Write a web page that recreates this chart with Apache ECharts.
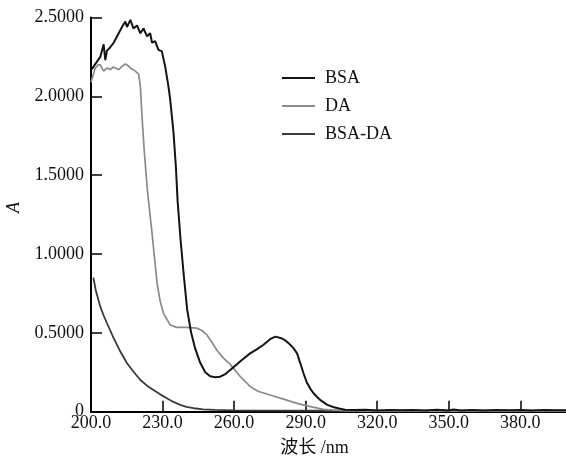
<!DOCTYPE html>
<html>
<head>
<meta charset="utf-8">
<script src="https://cdn.jsdelivr.net/npm/echarts@6/dist/echarts.min.js"></script>
<style>html,body{margin:0;padding:0;background:#fff}#c{width:566px;height:457px}</style>
</head>
<body>
<div id="c"></div>
<script>
var seriesNames = ['BSA', 'DA', 'BSA-DA'];
var xTicks = [200, 230, 260, 290, 320, 350, 380];
var yTicks = [0, 0.5, 1.0, 1.5, 2.0, 2.5];

var bsaX = [200.3,201.1,202.5,203.9,205.3,206.0,206.7,208.0,209.5,211.6,213.0,214.4,215.1,216.5,217.8,219.3,220.7,222.0,223.5,224.8,225.6,226.9,228.3,229.7,231.1,232.5,233.2,234.6,235.6,236.3,237.5,238.8,240.3,242.0,243.7,245.8,247.9,250.0,252.0,254.2,256.5,259.6,263.0,266.7,269.5,272.2,275.1,277.3,279.5,281.5,283.0,284.8,286.4,287.7,289.1,290.5,292.0,293.3,295.0,296.5,298.9,301.5,304.0,306.5,310,315,320,325,330,335,340,345,350,352,355,360,365,370,375,380,385,390,395,400];
var bsaY = [2.17,2.19,2.22,2.25,2.33,2.23,2.29,2.31,2.34,2.40,2.44,2.475,2.44,2.485,2.43,2.45,2.40,2.43,2.38,2.40,2.34,2.35,2.295,2.285,2.19,2.06,1.98,1.77,1.55,1.34,1.10,0.88,0.65,0.50,0.40,0.31,0.25,0.225,0.218,0.222,0.24,0.28,0.325,0.37,0.395,0.423,0.46,0.476,0.468,0.452,0.432,0.405,0.37,0.31,0.244,0.185,0.145,0.117,0.09,0.07,0.045,0.03,0.02,0.013,0.010,0.012,0.008,0.010,0.009,0.011,0.008,0.012,0.007,0.014,0.008,0.010,0.008,0.011,0.009,0.010,0.008,0.010,0.009,0.010];

var daX = [200.0,200.8,201.8,203.0,203.9,205.3,206.7,208.1,209.2,210.2,211.6,213.0,214.4,215.5,216.5,218.6,220.0,220.7,221.4,222.3,223.5,224.1,225.6,227.7,229.0,230.4,233.2,236.0,240.0,244.4,246.5,248.6,250.7,252.8,255.5,258.4,262.5,266.8,270.0,275.1,280.7,286.4,291.0,297.5,301.6,306,310,320,340,360,380,400];
var daY = [2.09,2.13,2.18,2.20,2.20,2.16,2.18,2.17,2.185,2.18,2.17,2.19,2.205,2.195,2.18,2.16,2.14,2.06,1.87,1.66,1.43,1.34,1.13,0.815,0.70,0.624,0.55,0.535,0.535,0.53,0.515,0.487,0.44,0.39,0.34,0.30,0.225,0.159,0.13,0.106,0.08,0.053,0.035,0.015,0.01,0.007,0.005,0.004,0.003,0.003,0.003,0.003];

var bsadaX = [201.0,202.0,203.9,205.3,206.7,209.5,212.0,215.1,218.0,220.7,223.5,226.2,229.0,231.8,234.6,237.4,240.0,243.0,247.0,252.0,260,280,300,320,340,360,380,400];
var bsadaY = [0.85,0.77,0.666,0.61,0.561,0.466,0.39,0.307,0.25,0.201,0.165,0.138,0.11,0.085,0.062,0.043,0.03,0.022,0.015,0.011,0.008,0.007,0.006,0.006,0.006,0.006,0.006,0.006];

function pairs(xs, ys) { return xs.map(function (x, i) { return [x, ys[i]]; }); }

var serif = "'Liberation Serif','Times New Roman','Noto Sans CJK SC',serif";
var chart = echarts.init(document.getElementById('c'), null, {renderer: 'canvas'});
chart.setOption({
  animation: false,
  backgroundColor: '#fff',
  grid: {left: 91, right: -2, top: 17.5, bottom: 45.3, containLabel: false, outerBoundsMode: 'none'},
  legend: {
    orient: 'vertical', left: 282, top: 69, padding: 0,
    icon: 'rect', itemWidth: 33, itemHeight: 2, itemGap: 10,
    textStyle: {fontFamily: serif, fontSize: 18, color: '#111', lineHeight: 18, padding: [0, 0, 0, 5]},
    data: seriesNames
  },
  xAxis: {
    type: 'value', min: 200, max: 400, interval: 30,
    name: '波长 /nm', nameLocation: 'middle', nameGap: 28,
    nameTextStyle: {fontFamily: serif, fontSize: 18, color: '#111', padding: [0, 30, 0, 0]},
    axisLine: {show: true, lineStyle: {color: '#000', width: 2}},
    axisTick: {show: true, inside: true, length: 11, lineStyle: {color: '#000', width: 1.5}},
    axisLabel: {fontFamily: serif, fontSize: 18, color: '#111', margin: 3,
      formatter: function (v) { return xTicks.indexOf(Math.round(v)) >= 0 ? v.toFixed(1) : ''; }},
    splitLine: {show: false}
  },
  yAxis: {
    type: 'value', min: 0, max: 2.5, interval: 0.5,
    name: 'A', nameLocation: 'middle', nameGap: 68, nameRotate: 90,
    nameTextStyle: {fontFamily: serif, fontSize: 18, fontStyle: 'italic', color: '#111', padding: [0, 0, 0, 14]},
    axisLine: {show: true, lineStyle: {color: '#000', width: 2}},
    axisTick: {show: true, inside: true, length: 11, lineStyle: {color: '#000', width: 1.5}},
    axisLabel: {fontFamily: serif, fontSize: 18, color: '#111', margin: 7,
      formatter: function (v) { return v === 0 ? '0' : v.toFixed(4); }},
    splitLine: {show: false}
  },
  series: [
    {name: 'BSA', type: 'line', data: pairs(bsaX, bsaY), showSymbol: false, symbol: 'none',
      itemStyle: {color: '#141414'}, lineStyle: {color: '#141414', width: 2}, z: 4},
    {name: 'DA', type: 'line', data: pairs(daX, daY), showSymbol: false, symbol: 'none',
      itemStyle: {color: '#8a8a8a'}, lineStyle: {color: '#8a8a8a', width: 1.7}, z: 3},
    {name: 'BSA-DA', type: 'line', data: pairs(bsadaX, bsadaY), showSymbol: false, symbol: 'none',
      itemStyle: {color: '#3a3a3a'}, lineStyle: {color: '#3a3a3a', width: 1.8}, z: 2}
  ]
});
</script>
</body>
</html>
